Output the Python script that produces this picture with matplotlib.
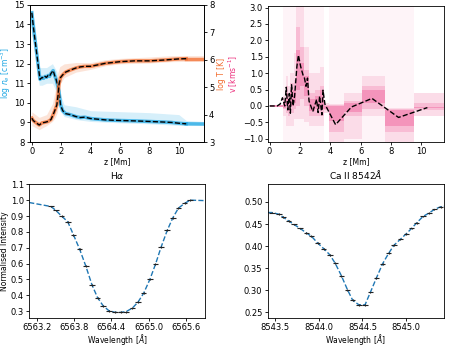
"""
Atmosphere summary figure: stratification (n_e, T), velocity distribution
and two synthetic line profiles (H-alpha, Ca II 8542) with binned data.
"""

import matplotlib

matplotlib.use("Agg")
import matplotlib.pyplot as plt

OUT_PATH = "out.png"

NE_COLOR = "#1ea7e4"
T_COLOR = "#f26b2c"
V_COLOR = "#ec2f7c"
TICK_FS = 6.0
LABEL_FS = 5.5

# -----------------------------------------------------------------------------
# Electron density (log cm^-3) vs height z [Mm]
# -----------------------------------------------------------------------------
z_ne = [0.0, 0.1, 0.25, 0.4, 0.55, 0.7, 0.8, 0.9, 1.0, 1.1, 1.2, 1.3, 1.45,
        1.55, 1.65, 1.75, 1.85, 1.95, 2.1, 2.3, 2.6, 3.0, 3.3, 3.6, 4.0, 5.0,
        6.0, 7.0, 8.0, 9.0, 9.5, 10.0, 10.5]
ne_med = [14.6, 13.9, 13.0, 12.1, 11.2, 11.3, 11.25, 11.35, 11.3, 11.4, 11.35,
          11.5, 11.65, 11.4, 11.2, 10.9, 10.6, 9.9, 9.6, 9.45, 9.4, 9.3, 9.25,
          9.27, 9.2, 9.13, 9.1, 9.08, 9.05, 9.02, 9.0, 8.96, 8.93]
# spread of the distribution (light band) and its peak beyond the median
zb_ne = [0.0, 0.2, 0.5, 0.7, 1.0, 1.4, 1.7, 1.9, 2.2, 3.0, 4.0, 6.0, 8.0,
         10.0, 10.5, 11.7]
ne_lo = [13.4, 12.9, 10.9, 10.9, 11.0, 11.0, 10.5, 9.6, 9.3, 9.15, 9.05,
         8.98, 8.93, 8.85, 8.85, 8.85]
ne_hi = [14.8, 14.0, 11.8, 11.8, 11.8, 12.0, 11.6, 10.5, 9.9, 9.8, 9.6,
         9.55, 9.5, 9.4, 9.1, 9.05]
ne_tail_z = [10.5, 11.7]
ne_tail = [8.93, 8.92]

# -----------------------------------------------------------------------------
# Temperature (log K) vs height
# -----------------------------------------------------------------------------
z_T = [0.0, 0.1, 0.3, 0.5, 0.7, 0.9, 1.1, 1.3, 1.45, 1.6, 1.7, 1.78, 1.85,
       1.95, 2.1, 2.3, 2.6, 3.0, 3.3, 3.6, 4.0, 5.0, 6.0, 7.0, 8.0, 9.0, 9.5,
       10.0, 10.5]
T_med = [3.87, 3.78, 3.7, 3.62, 3.7, 3.72, 3.75, 3.82, 4.0, 4.2, 4.35, 4.7,
         5.1, 5.35, 5.45, 5.55, 5.62, 5.7, 5.74, 5.76, 5.76, 5.87, 5.93, 5.96,
         5.96, 5.99, 6.01, 6.03, 6.04]
zb_T = [0.0, 0.5, 1.0, 1.4, 1.6, 1.75, 1.9, 2.2, 3.0, 4.0, 5.0, 6.0, 8.0,
        9.5, 11.7]
T_lo = [3.6, 3.45, 3.6, 3.75, 3.9, 4.1, 5.1, 5.35, 5.55, 5.65, 5.78, 5.85,
        5.88, 5.93, 5.95]
T_hi = [4.1, 3.9, 4.0, 4.4, 4.9, 5.5, 5.75, 5.85, 5.9, 5.9, 6.0, 6.05, 6.1,
        6.15, 6.15]
T_tail_z = [10.5, 11.7]
T_tail = [6.04, 6.04]

# -----------------------------------------------------------------------------
# Line-of-sight velocity [km/s] vs height
# -----------------------------------------------------------------------------
z_v = [0.0, 0.5, 0.7, 0.85, 1.0, 1.1, 1.2, 1.3, 1.37, 1.45, 1.55, 1.65, 1.8,
       1.9, 2.05, 2.2, 2.3, 2.4, 2.5, 2.6, 2.85, 3.1, 3.2, 3.3, 3.45, 3.52,
       3.65, 4.35, 5.4, 6.75, 8.5, 10.4]
v_med = [0.0, 0.0, 0.06, 0.25, 0.0, 0.57, -0.12, 0.38, -0.22, 0.65, 0.0, 0.3,
         1.2, 1.55, 1.2, 0.95, 0.85, 0.6, 0.85, 0.15, -0.17, 0.2, -0.2, 0.3,
         -0.27, 0.48, 0.05, -0.57, -0.03, 0.23, -0.35, -0.05]
# velocity distribution, one block per height bin [left, right)
vseg_left = [0.0, 0.9, 1.05, 1.2, 1.35, 1.6, 1.75, 2.0, 2.3, 2.6, 3.0, 3.3,
             3.6, 3.9, 4.9, 6.1, 7.6, 9.5]
vseg_right = [0.9, 1.05, 1.2, 1.35, 1.6, 1.75, 2.0, 2.3, 2.6, 3.0, 3.3, 3.6,
              3.9, 4.9, 6.1, 7.6, 9.5, 11.7]
v_faint_lo = [-0.04, -1.1, -1.1, -1.1, -1.1, -1.1, -1.1, -1.1, -1.1, -1.1,
              -1.1, -1.1, -0.2, -1.1, -1.1, -1.1, -1.1, -0.3]
v_faint_hi = [0.04, 3.05, 3.05, 3.05, 3.05, 3.05, 3.05, 3.05, 3.05, 3.05,
              3.05, 3.05, 0.1, 3.05, 3.05, 3.05, 3.05, 0.4]
v_out_lo = [-0.04, -0.3, -0.6, -0.6, -0.6, -0.4, -0.4, -0.4, -0.5, -0.6,
            -0.6, -0.6, -0.2, -1.1, -1.0, -0.3, -1.1, -0.3]
v_out_hi = [0.04, 0.3, 0.9, 0.6, 1.0, 1.6, 3.05, 3.05, 1.8, 1.0, 1.0, 1.2,
            0.1, 0.05, 0.4, 0.9, -0.05, 0.4]
v_mid_lo = [-0.03, -0.1, -0.2, -0.3, -0.2, -0.1, 0.0, 0.2, 0.0, -0.3, -0.3,
            -0.3, -0.12, -0.8, -0.3, -0.1, -0.8, -0.12]
v_mid_hi = [0.03, 0.2, 0.6, 0.3, 0.7, 0.8, 2.4, 1.8, 1.1, 0.4, 0.5, 0.6,
            0.03, 0.03, 0.15, 0.6, -0.08, 0.08]
v_in_lo = [-0.02, -0.05, 0.0, -0.15, 0.0, 0.1, 0.5, 0.6, 0.3, -0.15, -0.1,
           -0.1, -0.08, -0.45, -0.18, 0.1, -0.6, -0.06]
v_in_hi = [0.02, 0.1, 0.4, 0.1, 0.5, 0.5, 1.7, 1.3, 0.9, 0.2, 0.3, 0.5,
           0.0, 0.0, 0.08, 0.5, -0.12, -0.02]

# -----------------------------------------------------------------------------
# H-alpha profile
# -----------------------------------------------------------------------------
ha_wl = [6563.43, 6563.51, 6563.60, 6563.70, 6563.79, 6563.89, 6563.99,
         6564.09, 6564.18, 6564.27, 6564.36, 6564.46, 6564.55, 6564.64,
         6564.74, 6564.83, 6564.92, 6565.02, 6565.11, 6565.20, 6565.30,
         6565.39, 6565.48, 6565.58, 6565.67]
ha_int = [0.96, 0.935, 0.90, 0.864, 0.783, 0.692, 0.585, 0.466, 0.385,
          0.334, 0.304, 0.293, 0.293, 0.298, 0.32, 0.358, 0.413, 0.50, 0.595,
          0.703, 0.81, 0.889, 0.95, 0.98, 1.0]
ha_line_wl = [6563.08] + ha_wl + [6565.91]
ha_line_int = [0.985] + ha_int + [0.997]
HA_XERR = 0.045
HA_YERR = 0.006

# -----------------------------------------------------------------------------
# Ca II 8542 profile
# -----------------------------------------------------------------------------
ca_wl = [8543.47, 8543.55, 8543.60, 8543.66, 8543.72, 8543.79, 8543.86,
         8543.92, 8543.99, 8544.06, 8544.13, 8544.19, 8544.26, 8544.33,
         8544.39, 8544.46, 8544.53, 8544.59, 8544.66, 8544.73, 8544.80,
         8544.86, 8544.93, 8545.00, 8545.06, 8545.12, 8545.19, 8545.26,
         8545.32, 8545.39]
ca_int = [0.476, 0.472, 0.465, 0.457, 0.449, 0.44, 0.43, 0.422, 0.407,
          0.394, 0.38, 0.361, 0.333, 0.301, 0.277, 0.267, 0.267, 0.295,
          0.328, 0.36, 0.384, 0.402, 0.415, 0.428, 0.44, 0.453, 0.467,
          0.475, 0.483, 0.489]
ca_line_wl = [8543.42] + ca_wl + [8545.43]
ca_line_int = [0.476] + ca_int + [0.49]
CA_XERR = 0.03
CA_YERR = 0.002


def style_axes(ax):
    ax.tick_params(labelsize=TICK_FS, length=2.5, width=0.6, pad=1.2)
    for sp in ax.spines.values():
        sp.set_linewidth(0.6)


def draw_stratification(fig):
    ax = fig.add_axes([0.067, 0.593, 0.387, 0.393])
    ax.fill_between(zb_ne, ne_lo, ne_hi, color=NE_COLOR, alpha=0.18, lw=0)
    ax.plot(z_ne, ne_med, color=NE_COLOR, lw=2.5, alpha=0.75)
    ax.plot(ne_tail_z, ne_tail, color=NE_COLOR, lw=2.5, alpha=0.75)
    ax.plot(z_ne, ne_med, "k--", lw=1.0)
    ax.set_xlim(-0.12, 11.7)
    ax.set_ylim(8, 15)
    ax.set_xticks(range(0, 11, 2))
    ax.set_yticks(range(8, 16))
    ax.set_xlabel("z [Mm]", fontsize=LABEL_FS, labelpad=1)
    ax.set_ylabel(r"log $n_e$ [cm$^{-3}$]", fontsize=LABEL_FS, color=NE_COLOR,
                  labelpad=1)
    style_axes(ax)

    axT = ax.twinx()
    axT.fill_between(zb_T, T_lo, T_hi, color=T_COLOR, alpha=0.18, lw=0)
    axT.plot(z_T, T_med, color=T_COLOR, lw=2.5, alpha=0.75)
    axT.plot(T_tail_z, T_tail, color=T_COLOR, lw=2.5, alpha=0.75)
    axT.plot(z_T, T_med, "k--", lw=1.0)
    axT.set_ylim(3, 8)
    axT.set_yticks(range(3, 9))
    axT.set_ylabel("log T [K]", fontsize=LABEL_FS, color=T_COLOR, labelpad=2)
    style_axes(axT)


def draw_blocks(ax, lo, hi, alpha):
    widths = [r - l for l, r in zip(vseg_left, vseg_right)]
    heights = [h - l for h, l in zip(hi, lo)]
    ax.bar(vseg_left, heights, widths, bottom=lo, align="edge",
           color=V_COLOR, alpha=alpha, lw=0)


def draw_velocity(fig):
    ax = fig.add_axes([0.597, 0.593, 0.392, 0.39])
    draw_blocks(ax, v_faint_lo, v_faint_hi, 0.05)
    draw_blocks(ax, v_out_lo, v_out_hi, 0.12)
    draw_blocks(ax, v_mid_lo, v_mid_hi, 0.18)
    draw_blocks(ax, v_in_lo, v_in_hi, 0.28)
    ax.plot(z_v, v_med, "k--", lw=1.0)
    ax.set_xlim(-0.1, 11.5)
    ax.set_ylim(-1.1, 3.05)
    ax.set_xticks(range(0, 11, 2))
    ax.set_yticks([-1.0, -0.5, 0.0, 0.5, 1.0, 1.5, 2.0, 2.5, 3.0])
    ax.set_xlabel("z [Mm]", fontsize=LABEL_FS, labelpad=1)
    ax.set_ylabel(r"v [kms$^{-1}$]", fontsize=LABEL_FS, color=V_COLOR,
                  labelpad=2)
    style_axes(ax)


def draw_profile(ax, line_wl, line_int, wl, inten, xerr, yerr):
    ax.plot(line_wl, line_int, "--", color="C0", lw=1.0)
    ax.errorbar(wl, inten, xerr=xerr, yerr=yerr, fmt="none", ecolor="#222222",
                elinewidth=0.8)
    ax.set_xlabel(r"Wavelength [$\AA$]", fontsize=LABEL_FS, labelpad=0.5)
    style_axes(ax)


def main() -> None:
    fig = plt.figure(figsize=(4.49, 3.49), dpi=100)

    draw_stratification(fig)
    draw_velocity(fig)

    ax_ha = fig.add_axes([0.065, 0.09, 0.392, 0.382])
    draw_profile(ax_ha, ha_line_wl, ha_line_int, ha_wl, ha_int, HA_XERR, HA_YERR)
    ax_ha.set_xlim(6563.08, 6565.91)
    ax_ha.set_ylim(0.26, 1.1)
    ax_ha.set_xticks([6563.2, 6563.8, 6564.4, 6565.0, 6565.6])
    ax_ha.set_xticklabels(["6563.2", "6563.8", "6564.4", "6565.0", "6565.6"])
    ax_ha.set_yticks([0.3, 0.4, 0.5, 0.6, 0.7, 0.8, 0.9, 1.0, 1.1])
    ax_ha.set_ylabel("Normalised Intensity", fontsize=LABEL_FS, labelpad=1)
    ax_ha.set_title(r"H$\alpha$", fontsize=6.5, pad=4)

    ax_ca = fig.add_axes([0.596, 0.09, 0.393, 0.382])
    draw_profile(ax_ca, ca_line_wl, ca_line_int, ca_wl, ca_int, CA_XERR, CA_YERR)
    ax_ca.set_xlim(8543.42, 8545.43)
    ax_ca.set_ylim(0.238, 0.54)
    ax_ca.set_xticks([8543.5, 8544.0, 8544.5, 8545.0])
    ax_ca.set_yticks([0.25, 0.30, 0.35, 0.40, 0.45, 0.50])
    ax_ca.set_yticklabels(["0.25", "0.30", "0.35", "0.40", "0.45", "0.50"])
    ax_ca.set_title(r"Ca II 8542$\AA$", fontsize=6.5, pad=4)

    fig.savefig(OUT_PATH, dpi=100)
    plt.close(fig)


if __name__ == "__main__":
    main()
